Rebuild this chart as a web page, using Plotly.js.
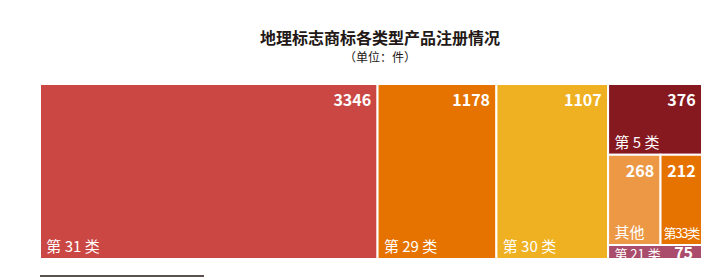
<!DOCTYPE html>
<html>
<head>
<meta charset="utf-8">
<script src="https://cdn.plot.ly/plotly-3.0.1.min.js"></script>
<style>html,body{margin:0;padding:0;background:#fff;}#chart{width:722px;height:279px;}</style>
</head>
<body>
<div id="chart"></div>
<script>
const categories = ["第 31 类", "第 29 类", "第 30 类", "第 5 类", "其他", "第33类", "第 21 类"];
const values = [3346, 1178, 1107, 376, 268, 212, 75];
const colors = ["#CB4744", "#E67300", "#EFB122", "#861820", "#EC9845", "#E67300", "#AA4D6C"];
const parents = categories.map(() => "");

const FONT = "Noto Sans CJK SC, Noto Sans, sans-serif";
const NB = "\u00a0";
// presentation: the narrow tile gets a condensed label, the thin strip shows label and value on one line
const narrowCategory = "第33类";
const stripCategory = "第 21 类";

const valueTpl = "<span style='font-size:16px'><b>%{value}</b></span>" + NB;
const labelTpl = NB + "%{label}";
const narrowTpl = "<span style='font-size:13px;letter-spacing:-1.2px'>%{label}</span>";
const stripTpl = NB + "<span style='font-size:13px'>%{label}</span>" + NB + NB + NB + NB + "<span style='font-size:16px'><b>%{value}</b></span>";

const common = {
  type: "treemap",
  labels: categories,
  parents: parents,
  values: values,
  sort: false,
  branchvalues: "remainder",
  tiling: {packing: "squarify", squarifyratio: 1.3, pad: 0},
  pathbar: {visible: false},
  hoverinfo: "none",
  domain: {x: [0, 1], y: [0, 1]}
};
const clear = {colors: categories.map(() => "rgba(0,0,0,0)"), line: {color: "rgba(0,0,0,0)", width: 0}, pad: {t: 0, l: 0, r: 0, b: 0}};

const valueTrace = Object.assign({}, common, {
  marker: {colors: colors, line: {color: "#ffffff", width: 2}, pad: {t: 0, l: 0, r: 0, b: 0}},
  texttemplate: categories.map(c => c === stripCategory ? "" : valueTpl),
  textposition: "top right",
  textfont: {family: FONT, size: 15, color: "#ffffff"}
});
const labelTrace = Object.assign({}, common, {
  marker: clear,
  texttemplate: categories.map(c => c === stripCategory ? "" : (c === narrowCategory ? narrowTpl : labelTpl)),
  textposition: "bottom left",
  textfont: {family: FONT, size: 15, color: "#ffffff"}
});
const stripTrace = Object.assign({}, common, {
  marker: clear,
  texttemplate: categories.map(c => c === stripCategory ? stripTpl : ""),
  textposition: "middle left",
  textfont: {family: FONT, size: 15, color: "#ffffff"}
});

const layout = {
  width: 722, height: 279,
  margin: {l: 40, r: 20, t: 84, b: 20},
  paper_bgcolor: "#ffffff",
  font: {family: FONT},
  uniformtext: {mode: "show", minsize: 15},
  title: {
    text: "<b>地理标志商标各类型产品注册情况</b>",
    font: {family: FONT, size: 16, color: "#231815"},
    x: 380 / 722, xanchor: "center", xref: "container",
    y: 1 - 38 / 279, yanchor: "middle", yref: "container"
  },
  annotations: [{
    text: "（单位：件）", xref: "paper", yref: "paper",
    x: (380 - 40) / 662, y: (259 - 57) / 175,
    xanchor: "center", yanchor: "middle", showarrow: false,
    font: {family: FONT, size: 12, color: "#231815"}
  }],
  shapes: [{
    type: "line", xref: "paper", yref: "paper",
    x0: 0, x1: 164 / 662, y0: -(276 - 259) / 175, y1: -(276 - 259) / 175,
    line: {color: "#231815", width: 1.5}
  }],
  showlegend: false
};

Plotly.newPlot("chart", [valueTrace, labelTrace, stripTrace], layout, {displayModeBar: false, staticPlot: true});
</script>
</body>
</html>
